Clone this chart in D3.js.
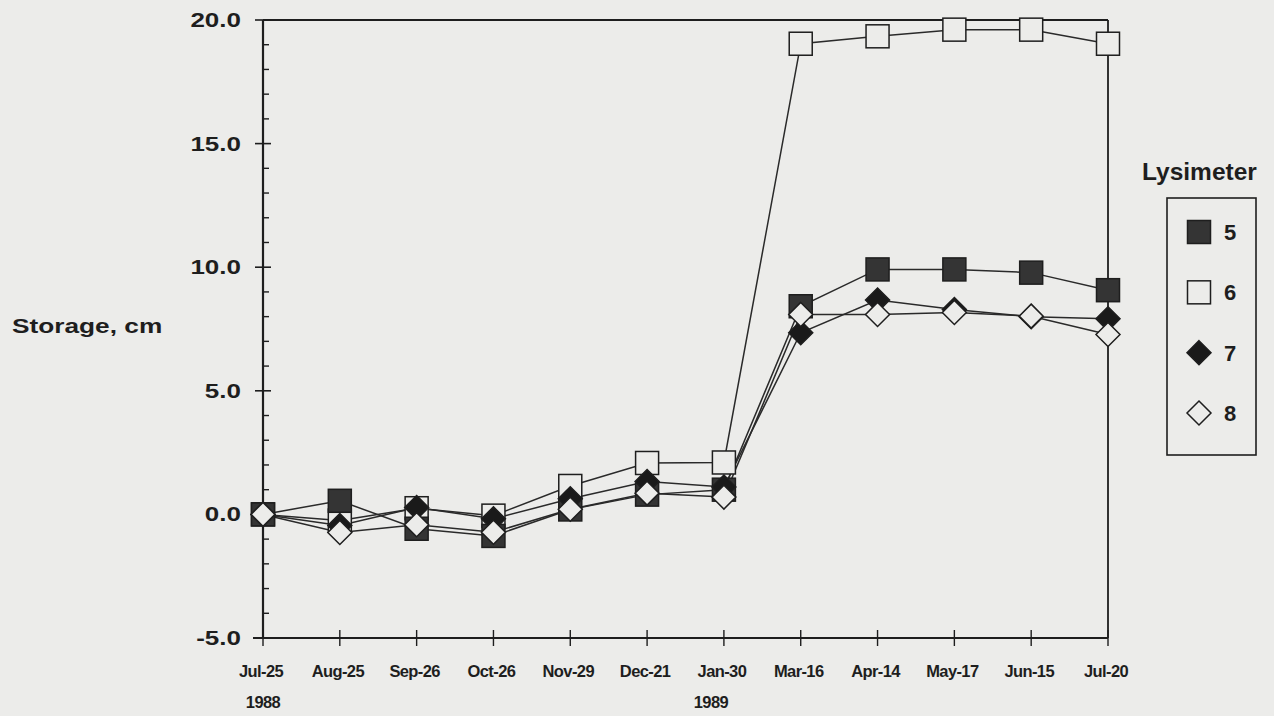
<!DOCTYPE html>
<html>
<head>
<meta charset="utf-8">
<script src="https://cdn.jsdelivr.net/npm/d3@7"></script>
<style>
  html, body { margin: 0; padding: 0; background: #ececea; }
  svg { display: block; }
  text { font-family: "Liberation Sans", Arial, Helvetica, sans-serif; font-weight: bold; fill: #1e1e1e; }
</style>
</head>
<body>
<svg id="chart" width="1274" height="716"></svg>
<script>
// ---- data ----
const categories = ["Jul-25", "Aug-25", "Sep-26", "Oct-26", "Nov-29", "Dec-21", "Jan-30",
                    "Mar-16", "Apr-14", "May-17", "Jun-15", "Jul-20"];
const yearLabels = [{ at: "Jul-25", text: "1988" }, { at: "Jan-30", text: "1989" }];
const lys5 = [0, 0.55, -0.58, -0.87, 0.20, 0.80, 1.00, 8.42, 9.91, 9.91, 9.78, 9.07];
const lys6 = [0, -0.25, 0.25, -0.05, 1.15, 2.08, 2.10, 19.04, 19.34, 19.61, 19.61, 19.04];
const lys7 = [0, -0.45, 0.28, -0.18, 0.63, 1.33, 1.11, 7.35, 8.67, 8.29, 8.00, 7.91];
const lys8 = [0, -0.73, -0.42, -0.72, 0.21, 0.86, 0.70, 8.09, 8.09, 8.17, 8.02, 7.28];
const yMajorTicks = [-5, 0, 5, 10, 15, 20];
const yTitle = "Storage, cm";
const legendTitle = "Lysimeter";

const series = [
  { name: "6", values: lys6, shape: "square", filled: false },
  { name: "5", values: lys5, shape: "square", filled: true },
  { name: "7", values: lys7, shape: "diamond", filled: true },
  { name: "8", values: lys8, shape: "diamond", filled: false }
];
const legendOrder = ["5", "6", "7", "8"];

// ---- layout ----
const BG = "#ececea", INK = "#1e1e1e", DARK = "#343434";
const svg = d3.select("#chart");
svg.append("rect").attr("width", 1274).attr("height", 716).attr("fill", BG);

const x = d3.scalePoint().domain(categories).range([263, 1108]).padding(0);
const y = d3.scaleLinear().domain([-5, 20]).range([638, 20]);

const g = svg.append("g");

// frame (top & right)
g.append("line").attr("x1", x.range()[0]).attr("x2", x.range()[1])
  .attr("y1", y(20)).attr("y2", y(20)).attr("stroke", INK).attr("stroke-width", 2);
g.append("line").attr("x1", x.range()[1]).attr("x2", x.range()[1])
  .attr("y1", y(20)).attr("y2", y(-5)).attr("stroke", INK).attr("stroke-width", 1.8);

// y axis
g.append("line").attr("x1", x.range()[0]).attr("x2", x.range()[0])
  .attr("y1", y(20)).attr("y2", y(-5)).attr("stroke", INK).attr("stroke-width", 2.2);
const minor = d3.range(-5, 20.001, 1).filter(v => !yMajorTicks.includes(v));
g.selectAll(".ymin").data(minor).join("line")
  .attr("x1", x.range()[0]).attr("x2", x.range()[0] + 6)
  .attr("y1", d => y(d)).attr("y2", d => y(d))
  .attr("stroke", INK).attr("stroke-width", 1.4);
g.selectAll(".ymaj").data(yMajorTicks).join("line")
  .attr("x1", x.range()[0] - 8).attr("x2", x.range()[0] + 8)
  .attr("y1", d => y(d)).attr("y2", d => y(d))
  .attr("stroke", INK).attr("stroke-width", 1.6);
g.selectAll(".ylab").data(yMajorTicks).join("text")
  .attr("transform", d => `translate(241,${y(d) + 7}) scale(1.3,1)`)
  .attr("text-anchor", "end").style("font-size", "20px")
  .text(d => d.toFixed(1));

// y title
svg.append("text").attr("transform", "translate(12,333) scale(1.25,1)")
  .style("font-size", "21px").text(yTitle);

// x axis
g.append("line").attr("x1", x.range()[0] - 10).attr("x2", x.range()[1])
  .attr("y1", y(-5)).attr("y2", y(-5)).attr("stroke", INK).attr("stroke-width", 2.2);
g.selectAll(".xt").data(categories).join("line")
  .attr("x1", d => x(d)).attr("x2", d => x(d))
  .attr("y1", y(-5) - 8).attr("y2", y(-5) + 8)
  .attr("stroke", INK).attr("stroke-width", 1.4);
g.selectAll(".xl").data(categories).join("text")
  .attr("x", d => x(d) - 2).attr("y", 677)
  .attr("text-anchor", "middle").style("font-size", "16.5px").style("letter-spacing", "-0.6px")
  .text(d => d);
g.selectAll(".yr").data(yearLabels).join("text")
  .attr("x", d => x(d.at) + (d.text === "1989" ? -13 : 0)).attr("y", 708)
  .attr("text-anchor", "middle").style("font-size", "16.5px").style("letter-spacing", "-0.6px")
  .text(d => d.text);

// symbols
const SQ = 23, DI = 12;
function drawMarker(sel, shape, filled) {
  if (shape === "square") {
    sel.append("rect").attr("x", -SQ / 2).attr("y", -SQ / 2).attr("width", SQ).attr("height", SQ)
      .attr("fill", filled ? DARK : BG).attr("stroke", INK).attr("stroke-width", 1.5);
  } else {
    sel.append("path").attr("d", `M0,${-DI}L${DI},0L0,${DI}L${-DI},0Z`)
      .attr("fill", filled ? "#1a1a1a" : BG).attr("stroke", INK).attr("stroke-width", 1.5);
  }
}

// lines
const line = d3.line().x((d, i) => x(categories[i])).y(d => y(d));
series.forEach(s => {
  g.append("path").attr("d", line(s.values)).attr("fill", "none")
    .attr("stroke", "#2a2a2a").attr("stroke-width", 1.5);
});
// markers
series.forEach(s => {
  s.values.forEach((v, i) => {
    const m = g.append("g").attr("transform", `translate(${x(categories[i])},${y(v)})`);
    drawMarker(m, s.shape, s.filled);
  });
});

// legend
svg.append("text").attr("x", 1142).attr("y", 180).style("font-size", "24.5px").text(legendTitle);
svg.append("rect").attr("x", 1167).attr("y", 198).attr("width", 89).attr("height", 257)
  .attr("fill", "none").attr("stroke", INK).attr("stroke-width", 1.6);
const legY = d3.scalePoint().domain(legendOrder).range([232, 413]);
legendOrder.forEach(name => {
  const s = series.find(d => d.name === name);
  const m = svg.append("g").attr("transform", `translate(1199,${legY(name)})`);
  drawMarker(m, s.shape, s.filled);
  svg.append("text").attr("x", 1224).attr("y", legY(name) + 8)
    .style("font-size", "22px").text(name);
});
</script>
</body>
</html>
